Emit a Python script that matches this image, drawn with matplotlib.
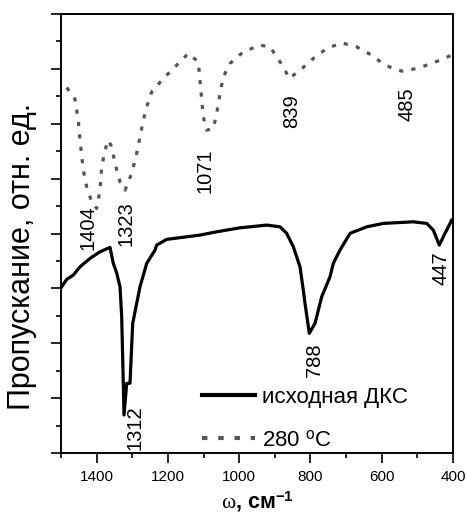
import matplotlib
matplotlib.use("Agg")
import matplotlib.pyplot as plt
from matplotlib.ticker import MultipleLocator

plt.rcParams['font.family'] = ['Liberation Sans', 'DejaVu Sans']
plt.rcParams['mathtext.fontset'] = 'custom'
plt.rcParams['mathtext.rm'] = 'Liberation Sans'
plt.rcParams['mathtext.it'] = 'Liberation Serif'
plt.rcParams['mathtext.bf'] = 'Liberation Sans:bold'
plt.rcParams['axes.unicode_minus'] = False

# исходная ДКС (solid)
w_init = [1500, 1484, 1465.5, 1446.7, 1418.6, 1390.5, 1362.5, 1353.2, 1343.7, 1334.4,
          1329.7, 1325.2, 1323.2, 1315.6, 1306.4, 1298.8, 1278.3, 1259.5, 1236.2, 1231.5,
          1203.4, 1110, 1063.1, 997.7, 922.8, 885.5, 866.7, 848.1, 829.3, 820.1,
          815.3, 803.2, 787.2, 768.4, 745.1, 735.9, 717.1, 689, 642.2, 595.6,
          511.4, 473.8, 455.3, 438.4, 427.2, 403.6]
t_init = [3.011, 3.164, 3.242, 3.393, 3.546, 3.667, 3.747, 3.455, 3.279, 3.029,
          2.483, 1.275, 0.692, 1.270, 1.270, 2.363, 3.029, 3.455, 3.698, 3.789,
          3.893, 3.971, 4.031, 4.104, 4.153, 4.122, 4.002, 3.758, 3.393, 2.969,
          2.727, 2.180, 2.363, 2.847, 3.211, 3.455, 3.698, 4.002, 4.122, 4.184,
          4.213, 4.184, 4.062, 3.789, 3.940, 4.244]

# 280 °C (dotted)
w_280 = [1484, 1460.7, 1451.5, 1446.7, 1437.4, 1427.9, 1413.9, 1399.8, 1390.6, 1385.8,
         1376.5, 1367.3, 1357.7, 1348.5, 1334.4, 1320.4, 1301.6, 1287.6, 1278.3, 1269.1,
         1259.5, 1245.5, 1212.9, 1180.1, 1142.8, 1114.7, 1110, 1105.2, 1100.7, 1091.2,
         1072.6, 1063.1, 1053.8, 1044.6, 1025.8, 988.5, 941.6, 913.5, 894.7, 876.2,
         859.4, 829.3, 792, 754.4, 712.3, 670.2, 628.2, 590.9, 543.9, 502,
         455.3, 403.6]
t_280 = [6.661, 6.448, 6.066, 5.701, 5.155, 4.851, 4.577, 4.457, 4.791, 5.215,
         5.519, 5.701, 5.579, 5.277, 4.942, 4.791, 5.095, 5.459, 5.761, 6.066,
         6.308, 6.581, 6.825, 7.036, 7.281, 7.128, 6.794, 6.430, 6.126, 5.883,
         5.914, 6.188, 6.552, 6.854, 7.098, 7.310, 7.432, 7.401, 7.219, 7.036,
         6.825, 6.976, 7.189, 7.372, 7.474, 7.401, 7.250, 7.067, 6.958, 7.007,
         7.109, 7.250]

# peak labels: text, x (cm-1), y (axis units)
peak_text = ["1404", "1323", "1071", "839", "485", "447", "788", "1312"]
peak_x = [1424, 1319, 1096, 852, 528, 434, 789, 1292]
peak_y = [4.1, 4.18, 5.14, 6.23, 6.36, 3.37, 1.69, 0.47]

x_ticks = [1400, 1200, 1000, 800, 600, 400]
legend_labels = ["исходная ДКС", "280 $^{\\rm o}$C"]

fig = plt.figure(figsize=(4.68, 5.18), dpi=100)
ax = fig.add_axes([61/468, 1-453/518, 392/468, 439/518])

ax.plot(w_init, t_init, color='black', lw=2.3, solid_joinstyle='round',
        label=legend_labels[0])
ax.plot(w_280, t_280, color='#555555', lw=2.3, linestyle=(0, (1.3, 2.6)),
        label=legend_labels[1])

for s, x, y in zip(peak_text, peak_x, peak_y):
    ax.text(x, y, s, rotation=90, ha='center', va='center', fontsize=14.5)

ax.set_xlim(1500, 400)
ax.set_ylim(0, 8)
ax.set_xticks(x_ticks)
ax.xaxis.set_minor_locator(MultipleLocator(100))
ax.yaxis.set_major_locator(MultipleLocator(1))
ax.yaxis.set_minor_locator(MultipleLocator(0.5))
ax.set_yticklabels([])
ax.tick_params(axis='both', which='major', direction='out', length=7, width=1.2,
               labelsize=11, pad=5)
ax.tick_params(axis='both', which='minor', direction='out', length=3.5, width=1.2)
for sp in ax.spines.values():
    sp.set_linewidth(1.4)

ax.set_xlabel(r"$\omega$, см$^{\mathregular{-1}}$", fontsize=15.5, fontweight='bold',
              labelpad=4.5)
fig.text(22/468, 1-256/518, "Пропускание, отн. ед.", rotation=90, ha='center',
         va='center', fontsize=22)

leg = ax.legend(loc='lower left', bbox_to_anchor=(0.36, 0.004), frameon=False,
                fontsize=16, handlelength=2.4, handletextpad=0.3, labelspacing=1.0,
                borderpad=0, borderaxespad=0)
for line in leg.get_lines():
    line.set_linewidth(3)

fig.savefig("out.png", dpi=100)
